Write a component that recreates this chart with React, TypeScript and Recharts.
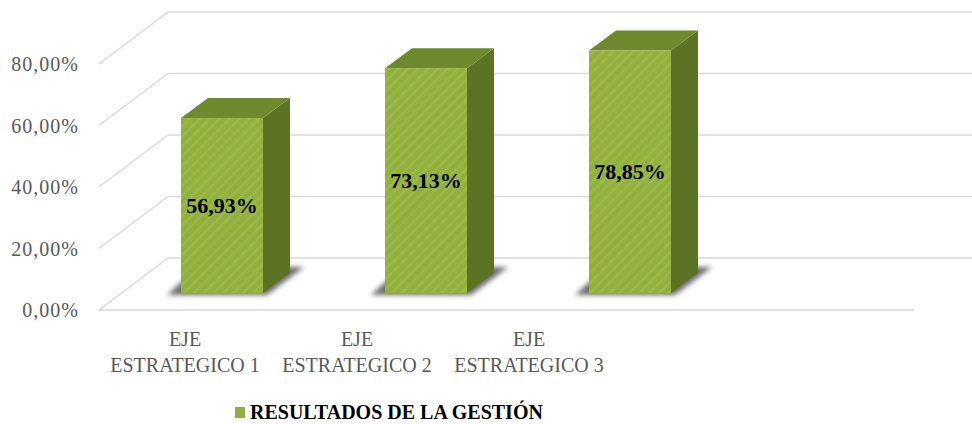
import React from "react";
import { BarChart, Bar, XAxis, YAxis, CartesianGrid, LabelList } from "recharts";

const categories = ["EJE ESTRATEGICO 1", "EJE ESTRATEGICO 2", "EJE ESTRATEGICO 3"];
const values = [56.93, 73.13, 78.85];
const valueLabels = ["56,93%", "73,13%", "78,85%"];
const yTicks = [0, 20, 40, 60, 80];
const seriesName = "RESULTADOS DE LA GESTIÓN";

const data = categories.map((c, i) => ({ category: c, value: values[i], label: valueLabels[i] }));

const FRONT = "#92b03d";
const STRIPE = "#9cb949";
const TOP = "#6f8a2c";
const SIDE = "#5d7324";
const GRID = "#d9d9d9";

// perspective parameters
const WALL_DX = 69;
const WALL_DY = 52;
const BAR_DX = 27;
const BAR_DY = 20;
const LIFT = 17;

const GridLine = (props: any) => {
  const { x1, x2, y1, index } = props;
  const y = y1;
  const isFloor = Math.abs(y - 310) < 3;
  return (
    <g key={`gl-${index}-${y}`}>
      <line x1={x1} y1={y} x2={x1 + WALL_DX} y2={y - WALL_DY} stroke={GRID} strokeWidth={1.5} />
      <line x1={x1 + WALL_DX} y1={y - WALL_DY} x2={x2 + 58} y2={y - WALL_DY} stroke={GRID} strokeWidth={1.5} />
      {isFloor && <line x1={x1} y1={y} x2={x2} y2={y} stroke={GRID} strokeWidth={1.5} />}
    </g>
  );
};

const Box3D = (props: any) => {
  const { x, y, width: w, height: h, index } = props;
  const ty = y - LIFT;
  const by = y + h - LIFT;
  const pid = `hatch-${index}`;
  const fid = `shadow-${index}`;
  return (
    <g>
      <defs>
        <pattern id={pid} width={7} height={7} patternUnits="userSpaceOnUse" patternTransform="rotate(45)">
          <rect width={7} height={7} fill={FRONT} />
          <rect width={2.5} height={7} fill={STRIPE} />
        </pattern>
        <filter id={fid} x="-50%" y="-50%" width="200%" height="200%">
          <feGaussianBlur stdDeviation={2.5} />
        </filter>
      </defs>
      <polygon
        points={`${x - 14},${by + 2} ${x + w + 4},${by + 2} ${x + w + BAR_DX + 14},${by - BAR_DY - 6} ${x + BAR_DX - 10},${by - BAR_DY - 6}`}
        fill="#3a3a3a"
        opacity={0.75}
        filter={`url(#${fid})`}
      />
      <polygon
        points={`${x + w},${ty} ${x + w + BAR_DX},${ty - BAR_DY} ${x + w + BAR_DX},${by - BAR_DY} ${x + w},${by}`}
        fill={SIDE}
      />
      <polygon
        points={`${x},${ty} ${x + BAR_DX},${ty - BAR_DY} ${x + w + BAR_DX},${ty - BAR_DY} ${x + w},${ty}`}
        fill={TOP}
      />
      <rect x={x} y={ty} width={w} height={h} fill={`url(#${pid})`} />
    </g>
  );
};

const ValueLabel = (props: any) => {
  const { x, y, width, height, value } = props;
  return (
    <text
      x={x + width / 2}
      y={y - LIFT + height / 2}
      textAnchor="middle"
      dominantBaseline="central"
      fontFamily="'Liberation Serif', serif"
      fontWeight="bold"
      fontSize={22}
      fill="#000"
    >
      {value}
    </text>
  );
};

const CategoryTick = (props: any) => {
  const { x, payload } = props;
  const s: string = payload.value;
  const sp = s.indexOf(" ");
  const l1 = s.slice(0, sp);
  const l2 = s.slice(sp + 1);
  return (
    <text textAnchor="middle" fontFamily="'Liberation Serif', serif" fontSize={20} fill="#595959">
      <tspan x={x} y={346}>{l1}</tspan>
      <tspan x={x} y={372}>{l2}</tspan>
    </text>
  );
};

const ValueTick = (props: any) => {
  const { x, y, payload } = props;
  return (
    <text
      x={x}
      y={y}
      dy="0.35em"
      textAnchor="end"
      fontFamily="'Liberation Serif', serif"
      fontSize={20}
      letterSpacing={1}
      fill="#595959"
    >
      {fmt(payload.value)}
    </text>
  );
};

const fmt = (v: number) => v.toFixed(2).replace(".", ",") + "%";

export default function App() {
  return (
    <div style={{ position: "absolute", left: 0, top: 0, width: 972, height: 424, background: "#fff" }}>
      <BarChart width={972} height={424} data={data} margin={{ top: 64, right: 58, bottom: 0, left: 9 }}>
        <CartesianGrid xAxisId="lab" vertical={false} horizontal={GridLine} />
        <XAxis
          xAxisId="lab"
          dataKey="category"
          axisLine={false}
          tickLine={false}
          tickSize={0}
          tickMargin={0}
          padding={{ left: 0, right: 299 }}
          tick={CategoryTick}
          interval={0}
          height={114}
        />
        <XAxis xAxisId="bar" dataKey="category" hide padding={{ left: 21, right: 182 }} />
        <YAxis
          domain={[0, 80]}
          ticks={yTicks}
          width={90}
          axisLine={false}
          tickLine={false}
          tickSize={0}
          tickMargin={20}
          tick={ValueTick}
        />
        <Bar xAxisId="bar" dataKey="value" barSize={82} shape={Box3D} isAnimationActive={false}>
          <LabelList dataKey="label" content={ValueLabel} />
        </Bar>
      </BarChart>
      <div
        style={{
          position: "absolute",
          left: 235,
          top: 401,
          display: "flex",
          alignItems: "center",
          fontFamily: "'Liberation Serif', serif",
          fontWeight: "bold",
          fontSize: 20,
          color: "#000",
          whiteSpace: "nowrap",
        }}
      >
        <span style={{ display: "inline-block", width: 10, height: 11, background: FRONT, marginRight: 5 }} />
        <span>{seriesName}</span>
      </div>
    </div>
  );
}
